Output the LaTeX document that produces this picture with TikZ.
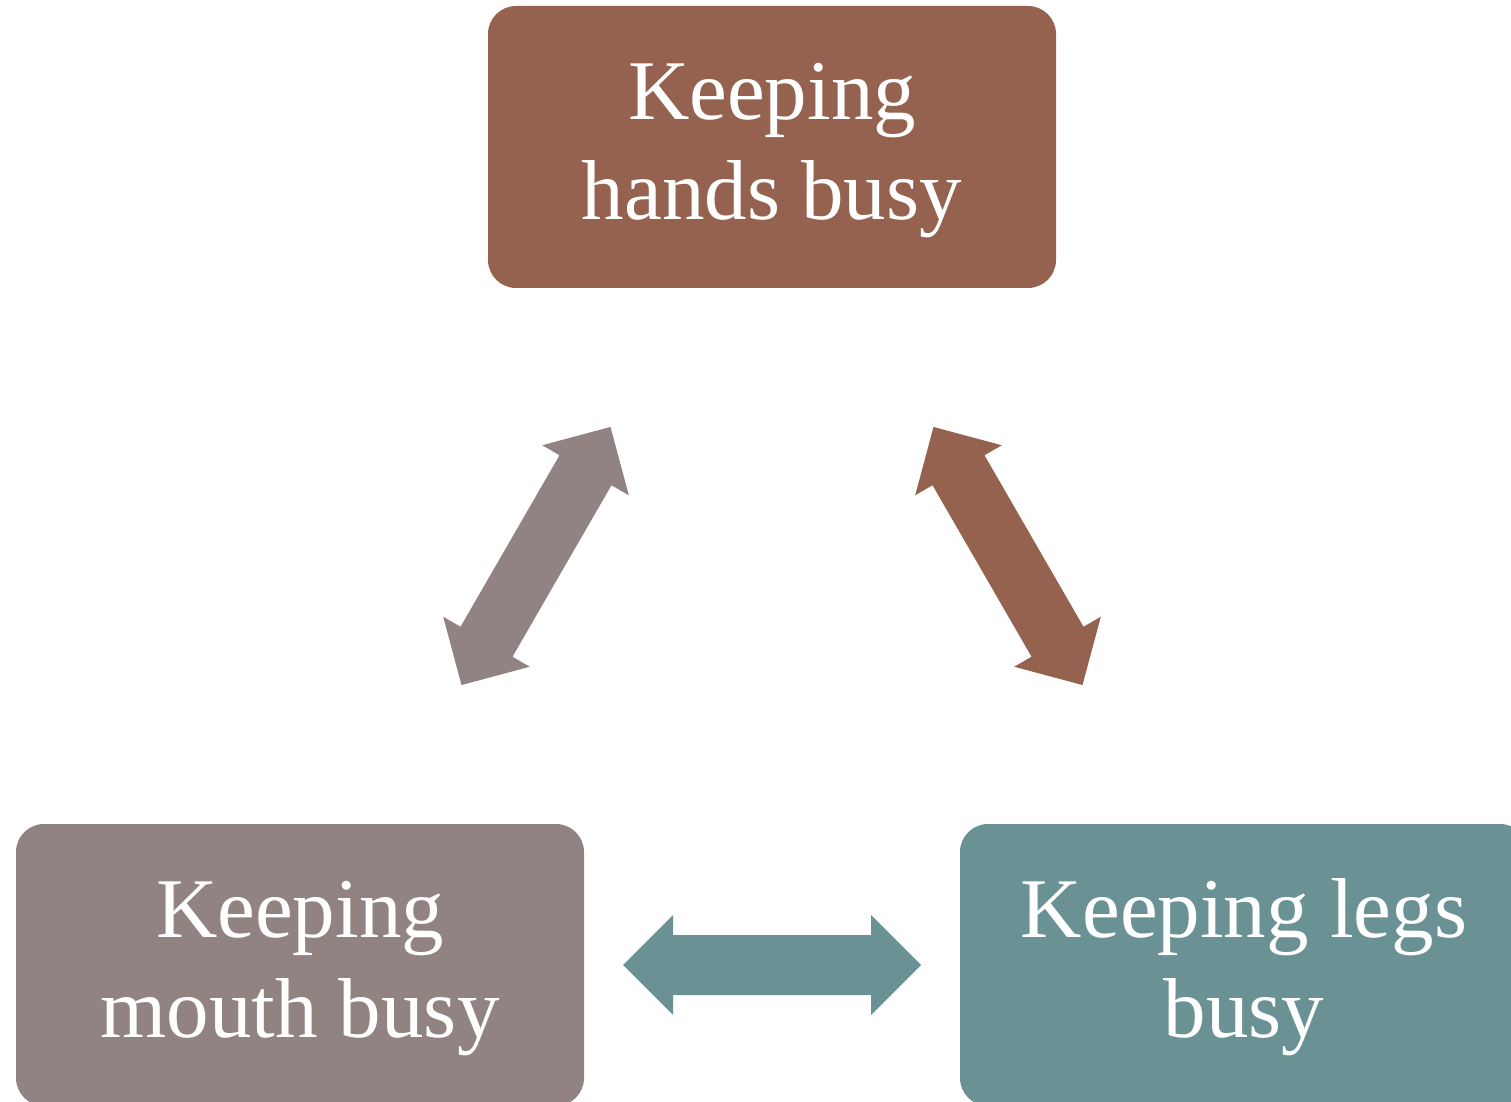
\documentclass[tikz,border=0pt]{standalone}
\usepackage{fontspec}
\setmainfont{Liberation Serif}
\usetikzlibrary{calc}
\definecolor{cbrown}{HTML}{956250}
\definecolor{cgrey}{HTML}{908382}
\definecolor{cteal}{HTML}{6A9295}
\tikzset{
  box/.style={rectangle, rounded corners=28pt, minimum width=568pt, minimum height=282pt,
    inner sep=0pt, text=white, align=center, text height=164pt, font=\fontsize{85}{100}\selectfont},
  dblarrow/.pic={
    \path[pic actions] (-149,0) -- (-99,50) -- (-99,30) -- (99,30) -- (99,50) -- (149,0)
      -- (99,-50) -- (99,-30) -- (-99,-30) -- (-99,-50) -- cycle;
  }
}
\begin{document}
\begin{tikzpicture}[x=1pt,y=1pt]
\useasboundingbox (0,0) rectangle (1511,1101);
\clip (0,0) rectangle (1511,1101);
\node[box, fill=cbrown] (hands) at (772,954) {Keeping\\hands busy};
\node[box, fill=cgrey] (mouth) at (300,136) {Keeping\\mouth busy};
\node[box, fill=cteal] (legs) at (1244,136) {Keeping legs\\busy};
\coordinate (lm) at ($(mouth.center)!0.5!(hands.center)$);
\coordinate (rm) at ($(legs.center)!0.5!(hands.center)$);
\coordinate (bm) at ($(mouth.center)!0.5!(legs.center)$);
\pic[fill=cgrey, rotate=60] at (lm) {dblarrow};
\pic[fill=cbrown, rotate=-60] at (rm) {dblarrow};
\pic[fill=cteal] at (bm) {dblarrow};
\end{tikzpicture}
\end{document}
